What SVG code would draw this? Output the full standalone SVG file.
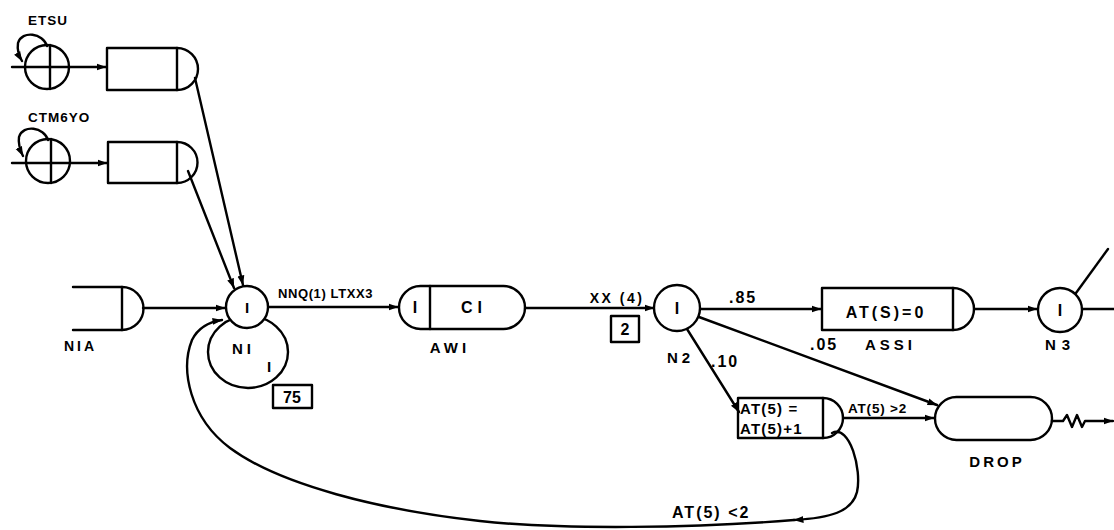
<svg xmlns="http://www.w3.org/2000/svg" width="1114" height="530" viewBox="0 0 1114 530">
<defs>
<style>
.s{fill:none;stroke:#000;stroke-width:2.4;stroke-linejoin:round;stroke-linecap:round}
.w{fill:#fff;stroke:#000;stroke-width:2.4}
.t{font-family:"Liberation Sans",Arial,sans-serif;font-weight:bold;font-size:13.5px;fill:#000}
.m{text-anchor:middle}
</style>
<marker id="a" viewBox="0 0 10 8" refX="9.5" refY="4" markerWidth="10" markerHeight="8" markerUnits="userSpaceOnUse" orient="auto">
<path d="M0,0.5 L10,4 L0,7.5 Z" fill="#000"/>
</marker>
</defs>
<rect width="1114" height="530" fill="#fff"/>

<g id="connectors">
<line class="s" x1="12" y1="67" x2="106" y2="67" marker-end="url(#a)"/>
<line class="s" x1="12" y1="163" x2="107" y2="163" marker-end="url(#a)"/>
<line class="s" x1="195" y1="78" x2="243" y2="285" marker-end="url(#a)"/>
<line class="s" x1="188" y1="171" x2="234" y2="288" marker-end="url(#a)"/>
<line class="s" x1="143" y1="308" x2="225" y2="308" marker-end="url(#a)"/>
<line class="s" x1="268" y1="307" x2="398" y2="307" marker-end="url(#a)"/>
<line class="s" x1="525" y1="308" x2="654" y2="308" marker-end="url(#a)"/>
<line class="s" x1="700" y1="309" x2="821" y2="309" marker-end="url(#a)"/>
<line class="s" x1="974" y1="309" x2="1037" y2="309" marker-end="url(#a)"/>
<line class="s" x1="1082" y1="309" x2="1114" y2="309"/>
<line class="s" x1="1076" y1="293" x2="1108" y2="249"/>
<line class="s" x1="699" y1="317" x2="937" y2="405" marker-end="url(#a)"/>
<line class="s" x1="687" y1="329" x2="739" y2="412" marker-end="url(#a)"/>
<line class="s" x1="843" y1="418" x2="934" y2="418" marker-end="url(#a)"/>
<path class="s" d="M1052,421 H1063 L1067,415 L1072,427 L1077,415 L1082,427 L1085,421 H1113" marker-end="url(#a)"/>
<path class="s" d="M832,433 C850,424 862,470 857,492 C852,512 830,518 794,520" marker-end="url(#a)"/>
<path class="s" d="M794,520 C700,528 560,530 480,521 C380,510 280,485 230,448 C190,418 180,370 192,340 C198,328 208,322 222,320" marker-end="url(#a)"/>
<text class="t" x="278" y="298" style="font-size:13px" letter-spacing="0.6">NNQ(1) LTXX3</text>
<text class="t m" x="617" y="303" style="font-size:14px" letter-spacing="2.5">XX (4)</text>
<rect class="s" x="611" y="316" width="28" height="26" stroke-width="1.8"/>
<text class="t m" x="625" y="335" style="font-size:16px">2</text>
<text class="t" x="729" y="303" style="font-size:16px" letter-spacing="2">.85</text>
<text class="t" x="810" y="350" style="font-size:16px" letter-spacing="2">.05</text>
<text class="t" x="711" y="367" style="font-size:16px" letter-spacing="2">.10</text>
<text class="t" x="848" y="413" style="font-size:13.5px" letter-spacing="0.8">AT(5) &gt;2</text>
<text class="t" x="672" y="518" style="font-size:16px" letter-spacing="2">AT(5) &lt;2</text>
</g>

<g id="etsu-source">
<text class="t" x="28" y="25" style="font-size:13.5px" letter-spacing="1">ETSU</text>
<circle class="s" cx="47" cy="67" r="22"/>
<line class="s" x1="50" y1="45" x2="50" y2="89"/>
<path class="s" d="M47,46 C43,33 22,30 18,43 C17,50 19,56 22,61" marker-end="url(#a)"/>
</g>

<g id="etsu-queue">
<path class="s" d="M107,48 H177 A21,21 0 0 1 177,90 H107 Z"/>
<line class="s" x1="177" y1="48" x2="177" y2="90"/>
</g>

<g id="ctm6yo-source">
<text class="t" x="28" y="122" style="font-size:13.5px" letter-spacing="1">CTM6YO</text>
<circle class="s" cx="48" cy="161" r="22"/>
<line class="s" x1="51" y1="139" x2="51" y2="183"/>
<path class="s" d="M48,140 C44,127 23,124 19,137 C18,144 20,150 23,156" marker-end="url(#a)"/>
</g>

<g id="ctm6yo-queue">
<path class="s" d="M108,142 H177 A20.5,20.5 0 0 1 177,183 H108 Z"/>
<line class="s" x1="177" y1="142" x2="177" y2="183"/>
</g>

<g id="NIA">
<path class="s" d="M73,287 H122 A21.5,21.5 0 0 1 122,330 H73"/>
<line class="s" x1="122" y1="287" x2="122" y2="330"/>
<text class="t" x="64" y="351" style="font-size:14px" letter-spacing="3">NIA</text>
</g>

<g id="N1">
<ellipse class="s" cx="248" cy="352" rx="40" ry="36"/>
<circle class="w" cx="247" cy="307" r="21"/>
<text class="t m" x="247" y="313" style="font-size:15px">I</text>
<text class="t" x="232" y="354" style="font-size:15px" letter-spacing="4">NI</text>
<text class="t" x="267" y="372" style="font-size:15px">I</text>
<rect class="s" x="273" y="385" width="39" height="23" stroke-width="1.8"/>
<text class="t m" x="292" y="403" style="font-size:16px">75</text>
</g>

<g id="AW1">
<rect class="s" x="399" y="286" width="126" height="43" rx="21.5"/>
<line class="s" x1="430" y1="286" x2="430" y2="329"/>
<text class="t m" x="415" y="313" style="font-size:16px">I</text>
<text class="t m" x="474" y="313" style="font-size:16px" letter-spacing="5">CI</text>
<text class="t m" x="450" y="353" style="font-size:15px" letter-spacing="4">AWI</text>
</g>

<g id="N2">
<circle class="w" cx="677" cy="308" r="23"/>
<text class="t m" x="677" y="314" style="font-size:16px">I</text>
<text class="t" x="667" y="363" style="font-size:15px" letter-spacing="4">N2</text>
</g>

<g id="ASS1">
<path class="s" d="M822,288 H953 A21,21 0 0 1 953,330 H822 Z"/>
<line class="s" x1="953" y1="288" x2="953" y2="330"/>
<text class="t m" x="886" y="318" style="font-size:16px" letter-spacing="3">AT(S)=0</text>
<text class="t" x="865" y="350" style="font-size:15px" letter-spacing="4">ASSI</text>
</g>

<g id="N3">
<circle class="w" cx="1060" cy="310" r="22"/>
<text class="t m" x="1060" y="316" style="font-size:16px">I</text>
<text class="t" x="1045" y="350" style="font-size:15px" letter-spacing="6">N3</text>
</g>

<g id="AT5-inc">
<path class="s" d="M738,398 H823 A20,20 0 0 1 823,438 H738 Z"/>
<line class="s" x1="823" y1="398" x2="823" y2="438"/>
<text class="t" x="740" y="414" style="font-size:15px" letter-spacing="1.2">AT(5) =</text>
<text class="t" x="740" y="434" style="font-size:15px" letter-spacing="1.2">AT(5)+1</text>
</g>

<g id="DROP">
<rect class="s" x="935" y="397" width="117" height="43" rx="21.5"/>
<text class="t m" x="997" y="467" style="font-size:15px" letter-spacing="3">DROP</text>
</g>
</svg>
